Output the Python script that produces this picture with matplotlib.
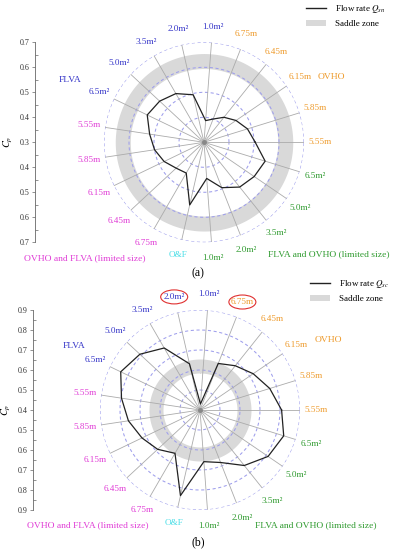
import numpy as np
import matplotlib
matplotlib.use("Agg")
import matplotlib.pyplot as plt
from matplotlib.lines import Line2D
from matplotlib.patches import Patch, Ellipse

plt.rcParams['font.family'] = ['Liberation Serif', 'DejaVu Serif']
plt.rcParams['mathtext.fontset'] = 'stix'

# spoke labels, counter-clockwise from the right-hand horizontal
spoke_labels = ["5.55m", "5.85m", "6.15m", "6.45m", "6.75m",
                "1.0m²", "2.0m²", "3.5m²", "5.0m²", "6.5m²",
                "5.55m", "5.85m", "6.15m", "6.45m", "6.75m",
                "O&F",
                "1.0m²", "2.0m²", "3.5m²", "5.0m²", "6.5m²"]
ORANGE, BLUE, MAGENTA, CYAN, GREEN = '#EE9A2A', '#3434C8', '#E03CD6', '#44DDE6', '#2E9A2E'
spoke_colors = [ORANGE] * 5 + [BLUE] * 5 + [MAGENTA] * 5 + [CYAN] + [GREEN] * 5

group_names = ["OVHO", "FLVA", "OVHO and FLVA (limited size)", "FLVA and OVHO (limited size)"]
group_colors = [ORANGE, BLUE, MAGENTA, GREEN]

# Cp at each spoke
cp_a = [0.505, 0.482, 0.455, 0.428, 0.400, 0.387, 0.495, 0.525, 0.542, 0.552,
        0.520, 0.500, 0.477, 0.452, 0.442, 0.557, 0.445, 0.495, 0.529, 0.543, 0.556]
cp_b = [0.808, 0.765, 0.722, 0.683, 0.650, 0.430, 0.637, 0.758, 0.810, 0.840,
        0.797, 0.762, 0.722, 0.689, 0.650, 0.839, 0.659, 0.682, 0.755, 0.812, 0.838]

range_a = (0.3, 0.7)
range_b = (0.4, 0.9)
saddle_a = (0.595, 0.655)
saddle_b = (0.585, 0.655)

W, H = 396, 550
fig = plt.figure(figsize=(W / 100, H / 100), dpi=100)


def px(x, y, w, h):
    return [x / W, 1 - (y + h) / H, w / W, h / H]


def panel(cx, cy, vals, rng, saddle, axis_x, q_label, tag, legend_xy, groups_xy, circled=()):
    ax = fig.add_axes(px(cx - 100, cy - 100, 200, 200), projection='polar')
    rmin, rmax = rng
    ax.set_ylim(rmin, rmax)
    ax.set_xticks([])
    ax.set_yticks([])
    ax.grid(False)
    ax.spines['polar'].set_visible(False)
    ax.patch.set_alpha(0)

    n = len(spoke_labels)
    theta = np.arange(n) * 2 * np.pi / n
    full = np.linspace(0, 2 * np.pi, 361)

    ax.fill_between(full, saddle[0], saddle[1], color='#D9D9D9', lw=0, zorder=1)
    for r in np.arange(rmin + 0.1, rmax + 0.001, 0.1):
        ax.plot(full, np.full_like(full, r), ls=(0, (3, 2.5)), color='#9E9EEC', lw=0.75, zorder=2)
    for t in theta:
        ax.plot([t, t], [rmin, rmax], color='#ABABAB', lw=0.6, zorder=2)
    ax.plot(0, rmin, 'o', color='#888888', ms=2.5, zorder=3)

    v = np.array(vals)
    ax.plot(np.append(theta, theta[0]), np.append(v, v[0]), color='#222222', lw=0.9, zorder=4)

    r_lab = rmin + 1.16 * (rmax - rmin)
    for i, (t, lab, col) in enumerate(zip(theta, spoke_labels, spoke_colors)):
        ax.text(t, r_lab, lab, color=col, fontsize=6.6, ha='center', va='center', clip_on=False)
        if i in circled:
            xd, yd = ax.transData.transform((t, r_lab))
            xf, yf = fig.transFigure.inverted().transform((xd, yd))
            fig.patches.append(Ellipse((xf, yf), 27 / W, 14 / H, transform=fig.transFigure,
                                       fill=False, ec='#E03030', lw=0.8))

    # left Cp axis
    axl = fig.add_axes(px(axis_x, cy - 100, 0.5, 200))
    for s in ['top', 'right', 'bottom']:
        axl.spines[s].set_visible(False)
    axl.spines['left'].set_color('#666666')
    axl.spines['left'].set_linewidth(0.6)
    axl.patch.set_alpha(0)
    span = rmax - rmin
    axl.set_ylim(-span, span)
    ticks = np.round(np.arange(-span, span + 0.001, 0.1), 2)
    axl.set_yticks(ticks)
    axl.set_yticklabels([f"{abs(t) + rmin:.1f}" for t in ticks], fontsize=5.8, color='#333333')
    axl.set_yticks(np.arange(-span + 0.05, span, 0.1), minor=True)
    axl.tick_params(axis='y', which='major', length=2.5, width=0.5, color='#666666', pad=1.5)
    axl.tick_params(axis='y', which='minor', direction='in', length=2, width=0.5, color='#666666')
    axl.set_xticks([])
    axl.set_ylabel("$C_p$", fontsize=7.5, labelpad=3)

    # group labels
    for name, col, (gx, gy) in zip(group_names, group_colors, groups_xy):
        fig.text(gx / W, 1 - gy / H, name, color=col, fontsize=6.8, ha='center', va='center')

    fig.text(198 / W, 1 - tag[1] / H, tag[0], fontsize=8.5, ha='center', va='center')

    handles = [Line2D([], [], color='#222222', lw=1.0), Patch(facecolor='#D9D9D9', edgecolor='none')]
    fig.legend(handles, ["Flow rate " + q_label, "Saddle zone"], loc='upper left',
               bbox_to_anchor=(legend_xy[0] / W, 1 - legend_xy[1] / H), frameon=False,
               fontsize=6.5, handlelength=2.2, handleheight=0.7, handletextpad=1.0,
               labelspacing=0.55, borderaxespad=0, borderpad=0)


panel(204, 142.3, cp_a, range_a, saddle_a, 35, "$Q_{sn}$", ("(a)", 273), (306, 3),
      [(331, 77), (70, 80), (85, 258), (329, 254)])
panel(200, 410, cp_b, range_b, saddle_b, 33, "$Q_{sc}$", ("(b)", 542), (310, 278),
      [(328, 340), (74, 346), (88, 525), (316, 525)], circled=(4, 6))

fig.savefig("out.png", dpi=100)
